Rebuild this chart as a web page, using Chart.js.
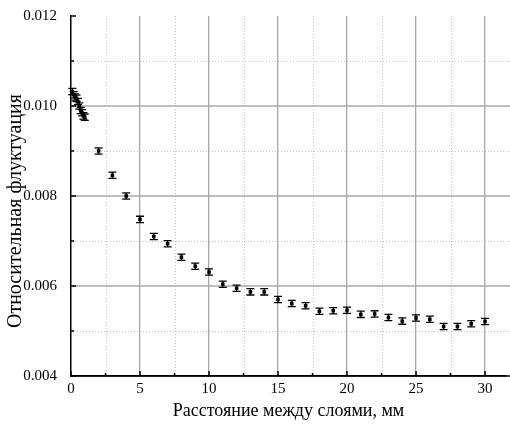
<!DOCTYPE html>
<html>
<head>
<meta charset="utf-8">
<script src="https://cdn.jsdelivr.net/npm/chart.js"></script>
<style>
  html, body { margin: 0; padding: 0; background: #fff; }
  #wrap { width: 510px; height: 426px; }
</style>
</head>
<body>
<div id="wrap"><canvas id="chart"></canvas></div>
<script>
// Data
const distances = [0.1, 0.2, 0.3, 0.4, 0.5, 0.6, 0.7, 0.8, 0.9, 1.0,
  2, 3, 4, 5, 6, 7, 8, 9, 10, 11, 12, 13, 14, 15, 16, 17, 18, 19, 20,
  21, 22, 23, 24, 25, 26, 27, 28, 29, 30];
const fluctuation = [0.01032, 0.01025, 0.01020, 0.01017, 0.01010, 0.01000, 0.00990, 0.00985, 0.00978, 0.00975,
  0.00900, 0.00846, 0.00800, 0.00748, 0.00710, 0.00694, 0.00664, 0.00644, 0.00631, 0.00604,
  0.00595, 0.00587, 0.00587, 0.00570, 0.00561, 0.00556, 0.00544, 0.00545, 0.00546,
  0.00537, 0.00538, 0.00530, 0.00522, 0.00529, 0.00526, 0.00510, 0.00510, 0.00516, 0.00521];
const errorBar = 0.00007;
const xMajorTicks = [0, 5, 10, 15, 20, 25, 30];
const xMinorTicks = [2.5, 7.5, 12.5, 17.5, 22.5, 27.5];
const yMajorTicks = [0.004, 0.006, 0.008, 0.010, 0.012];
const yGridTicks = [0.006, 0.008, 0.010];
const yMinorTicks = [0.005, 0.007, 0.009, 0.011];

const FONT = "'Liberation Serif', 'Times New Roman', serif";

// horizontal grid (runs to the page edge), minor dotted grid, inward ticks, error bars
const decor = {
  id: "decor",
  beforeDatasetsDraw(chart) {
    const { ctx, chartArea: a, scales: { x, y } } = chart;
    const right = chart.width;
    ctx.save();
    ctx.strokeStyle = "#c4c4c4";
    ctx.lineWidth = 1;
    ctx.setLineDash([1, 2]);
    xMinorTicks.forEach((v) => {
      const px = Math.round(x.getPixelForValue(v)) + 0.5;
      ctx.beginPath(); ctx.moveTo(px, a.top); ctx.lineTo(px, a.bottom); ctx.stroke();
    });
    yMinorTicks.forEach((v) => {
      const py = Math.round(y.getPixelForValue(v)) + 0.5;
      ctx.beginPath(); ctx.moveTo(a.left, py); ctx.lineTo(right, py); ctx.stroke();
    });
    ctx.setLineDash([]);
    ctx.strokeStyle = "#a8a8a8";
    ctx.lineWidth = 1.3;
    yGridTicks.forEach((v) => {
      const py = y.getPixelForValue(v);
      ctx.beginPath(); ctx.moveTo(a.left, py); ctx.lineTo(right, py); ctx.stroke();
    });
    ctx.strokeStyle = "#000";
    ctx.lineWidth = 1.5;
    ctx.beginPath(); ctx.moveTo(a.left, a.bottom); ctx.lineTo(right, a.bottom); ctx.stroke();
    const tick = (arr, len, isX) => arr.forEach((v) => {
      ctx.beginPath();
      if (isX) {
        const px = x.getPixelForValue(v);
        ctx.moveTo(px, a.bottom); ctx.lineTo(px, a.bottom - len);
      } else {
        const py = y.getPixelForValue(v);
        ctx.moveTo(a.left, py); ctx.lineTo(a.left + len, py);
      }
      ctx.stroke();
    });
    tick(xMajorTicks, 5, true);
    tick(xMinorTicks, 3, true);
    tick(yMajorTicks, 5, false);
    tick(yMinorTicks, 3, false);
    ctx.restore();
  },
  afterDatasetsDraw(chart) {
    const { ctx, scales: { x, y } } = chart;
    ctx.save();
    ctx.strokeStyle = "#000";
    ctx.lineWidth = 1.3;
    distances.forEach((d, i) => {
      const px = x.getPixelForValue(d);
      const top = y.getPixelForValue(fluctuation[i] + errorBar);
      const bot = y.getPixelForValue(fluctuation[i] - errorBar);
      ctx.beginPath();
      ctx.moveTo(px, top); ctx.lineTo(px, bot);
      ctx.moveTo(px - 4, top); ctx.lineTo(px + 4, top);
      ctx.moveTo(px - 4, bot); ctx.lineTo(px + 4, bot);
      ctx.stroke();
    });
    ctx.restore();
  },
};

const ctx = document.getElementById("chart").getContext("2d");
new Chart(ctx, {
  type: "scatter",
  data: {
    datasets: [{
      data: distances.map((d, i) => ({ x: d, y: fluctuation[i] })),
      pointStyle: "rect",
      pointRadius: 2.5,
      backgroundColor: "#000",
      borderColor: "#000",
      borderWidth: 0,
    }],
  },
  options: {
    responsive: true,
    maintainAspectRatio: false,
    animation: false,
    layout: { padding: { top: 16, right: 0, left: 4, bottom: 4 } },
    plugins: { legend: { display: false }, tooltip: { enabled: false } },
    scales: {
      x: {
        type: "linear",
        min: 0,
        max: 31.52,
        afterBuildTicks: (s) => { s.ticks = xMajorTicks.map((v) => ({ value: v })); },
        afterFit: (s) => { s.height = 46; s.paddingRight = 0; },
        ticks: { color: "#000", font: { family: FONT, size: 15 }, padding: 4 },
        grid: {
          color: (c) => (c.tick && c.tick.value === 0 ? "rgba(0,0,0,0)" : "#a8a8a8"),
          lineWidth: 1.3,
          drawTicks: false,
        },
        border: { color: "#000", width: 1.5 },
        title: {
          display: true,
          text: "Расстояние между слоями, мм",
          color: "#000",
          font: { family: FONT, size: 18 },
          padding: { top: 8, bottom: 0 },
        },
      },
      y: {
        type: "linear",
        min: 0.004,
        max: 0.012,
        afterBuildTicks: (s) => { s.ticks = yMajorTicks.map((v) => ({ value: v })); },
        afterFit: (s) => { s.width = 67; },
        ticks: {
          color: "#000",
          font: { family: FONT, size: 15 },
          padding: 6,
          callback: (v) => v.toFixed(3),
        },
        grid: { display: false },
        border: { color: "#000", width: 1.5 },
        title: {
          display: true,
          text: "Относительная флуктуация\u2003\u2002",
          color: "#000",
          font: { family: FONT, size: 20 },
          padding: { top: 0, bottom: 0 },
        },
      },
    },
  },
  plugins: [decor],
});
</script>
</body>
</html>
